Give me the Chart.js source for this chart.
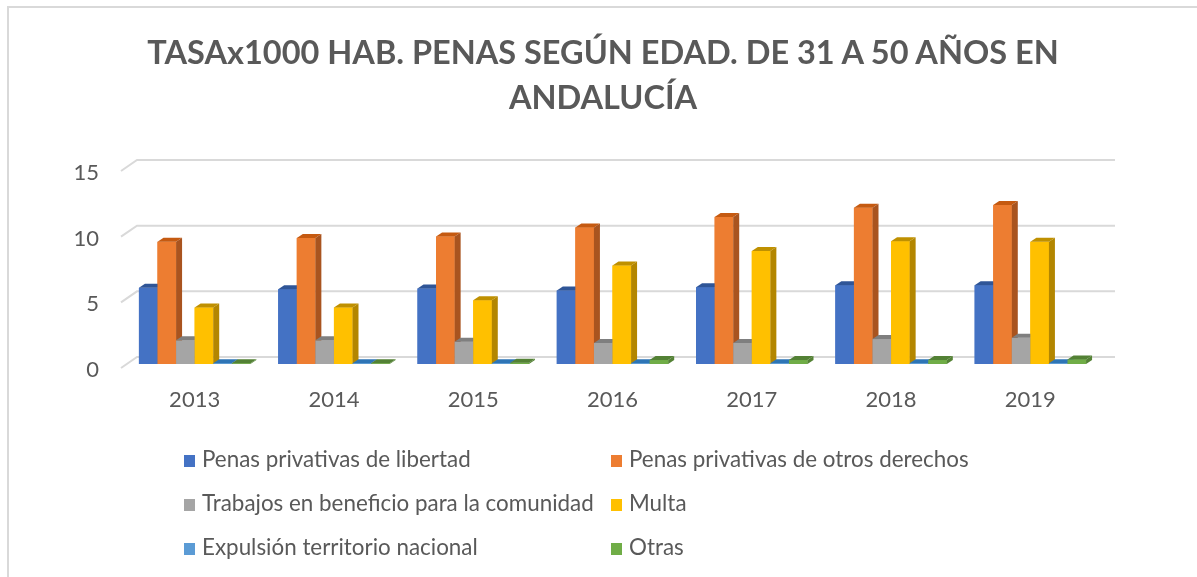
<!DOCTYPE html>
<html>
<head>
<meta charset="utf-8">
<script src="https://cdn.jsdelivr.net/npm/chart.js@4.4.0/dist/chart.umd.min.js"></script>
<style>
  html, body { margin: 0; padding: 0; background: #fff; }
  #wrap { position: relative; width: 1197px; height: 577px; overflow: hidden; font-family: Lato, sans-serif; color: #595959; }
  #frame { position: absolute; left: 7px; top: 6px; width: 1300px; height: 700px; border-left: 2px solid #d9d9d9; border-top: 2px solid #d9d9d9; }
  #title { position: absolute; left: 0; width: 1206px; top: 29px; text-align: center; font-weight: bold; font-size: 32.5px; line-height: 45px; }
  canvas { position: absolute; left: 0; top: 0; }
  .leg { position: absolute; font-size: 22.4px; white-space: nowrap; }
  .leg span { display: inline-block; width: 11px; height: 12px; margin-right: 7px; }
</style>
</head>
<body>
<div id="wrap">
  <div id="frame"></div>
  <canvas id="grafico" width="1197" height="577"></canvas>
  <div id="title">TASAx1000 HAB. PENAS SEGÚN EDAD. DE 31 A 50 AÑOS EN<br>ANDALUCÍA</div>
  <div id="legenda"></div>
</div>
<script>
const anos = ['2013', '2014', '2015', '2016', '2017', '2018', '2019'];
const ticksY = [0, 5, 10, 15];

const libertad = [5.8, 5.7, 5.75, 5.6, 5.85, 6.0, 6.0];
const otrosDerechos = [9.3, 9.6, 9.7, 10.4, 11.2, 11.9, 12.1];
const trabajos = [1.8, 1.8, 1.7, 1.6, 1.6, 1.9, 2.0];
const multa = [4.3, 4.3, 4.85, 7.5, 8.6, 9.35, 9.3];
const expulsion = [0.05, 0.05, 0.05, 0.05, 0.05, 0.05, 0.05];
const otras = [0.05, 0.05, 0.1, 0.3, 0.3, 0.3, 0.35];

const nomes = ['Penas privativas de libertad', 'Penas privativas de otros derechos',
  'Trabajos en beneficio para la comunidad', 'Multa', 'Expulsión territorio nacional', 'Otras'];
const valores = [libertad, otrosDerechos, trabajos, multa, expulsion, otras];
const cores = ['#4472c4', '#ed7d31', '#a5a5a5', '#ffc000', '#5b9bd5', '#70ad47'];
const coresTopo = ['#2f5597', '#c55a11', '#7f7f7f', '#bf9000', '#2e75b6', '#538135'];
const coresLado = ['#34589a', '#a9541f', '#7b7b7b', '#b38600', '#3f7ab0', '#548235'];

// legenda em html, duas colunas
var leg = document.getElementById('legenda');
nomes.forEach((n, i) => {
  var d = document.createElement('div');
  d.className = 'leg';
  d.style.left = (i % 2 == 0 ? 184 : 611) + 'px';
  d.style.top = (445 + Math.floor(i / 2) * 44) + 'px';
  d.innerHTML = '<span style="background:' + cores[i] + '"></span>' + n;
  leg.appendChild(d);
});

const DX = 6, DY = 4;

// grade em perspectiva (fundo)
const grade3d = {
  id: 'grade3d',
  beforeDatasetsDraw(chart) {
    const ctx = chart.ctx;
    const y = chart.scales.y;
    ctx.save();
    ctx.strokeStyle = '#d9d9d9';
    ctx.lineWidth = 2;
    ticksY.forEach(v => {
      const py = y.getPixelForValue(v);
      ctx.beginPath();
      ctx.moveTo(121, py + 4);
      ctx.lineTo(137, py - 7);
      ctx.lineTo(1115, py - 7);
      ctx.stroke();
    });
    ctx.restore();
  }
};

// redesenha as barras da esquerda pra direita com topo e lado
const barras3d = {
  id: 'barras3d',
  afterDatasetsDraw(chart) {
    const ctx = chart.ctx;
    ctx.save();
    for (let i = 0; i < valores.length; i++) {
      const meta = chart.getDatasetMeta(i);
      meta.data.forEach(b => {
        const l = b.x - b.width / 2, r = b.x + b.width / 2;
        ctx.fillStyle = cores[i];
        ctx.fillRect(l, b.y, r - l, b.base - b.y);
        ctx.fillStyle = coresTopo[i];
        ctx.beginPath();
        ctx.moveTo(l, b.y);
        ctx.lineTo(l + DX, b.y - DY);
        ctx.lineTo(r + DX, b.y - DY);
        ctx.lineTo(r, b.y);
        ctx.closePath();
        ctx.fill();
        ctx.fillStyle = coresLado[i];
        ctx.beginPath();
        ctx.moveTo(r, b.y);
        ctx.lineTo(r + DX, b.y - DY);
        ctx.lineTo(r + DX, b.base - DY);
        ctx.lineTo(r, b.base);
        ctx.closePath();
        ctx.fill();
      });
    }
    ctx.restore();
  }
};

var ctx = document.getElementById('grafico').getContext('2d');
var grafico = new Chart(ctx, {
  type: 'bar',
  data: {
    labels: anos,
    datasets: valores.map((v, i) => ({
      label: nomes[i],
      data: v,
      backgroundColor: cores[i],
      categoryPercentage: 0.8,
      barPercentage: 1.0
    }))
  },
  options: {
    responsive: false,
    animation: false,
    layout: { padding: { top: 167, left: 0, right: 97, bottom: 143 } },
    plugins: { legend: { display: false }, tooltip: { enabled: false } },
    scales: {
      x: {
        grid: { display: false },
        border: { display: false },
        ticks: { color: '#595959', font: { family: 'Lato', size: 22 }, padding: 15 },
        afterFit: s => { s.height = 70; }
      },
      y: {
        min: 0,
        max: 15,
        grid: { display: false },
        border: { display: false },
        ticks: { stepSize: 5, color: '#595959', font: { family: 'Lato', size: 22 }, padding: 18, labelOffset: 6 },
        afterFit: s => { s.width = 125; }
      }
    }
  },
  plugins: [grade3d, barras3d]
});
</script>
</body>
</html>
